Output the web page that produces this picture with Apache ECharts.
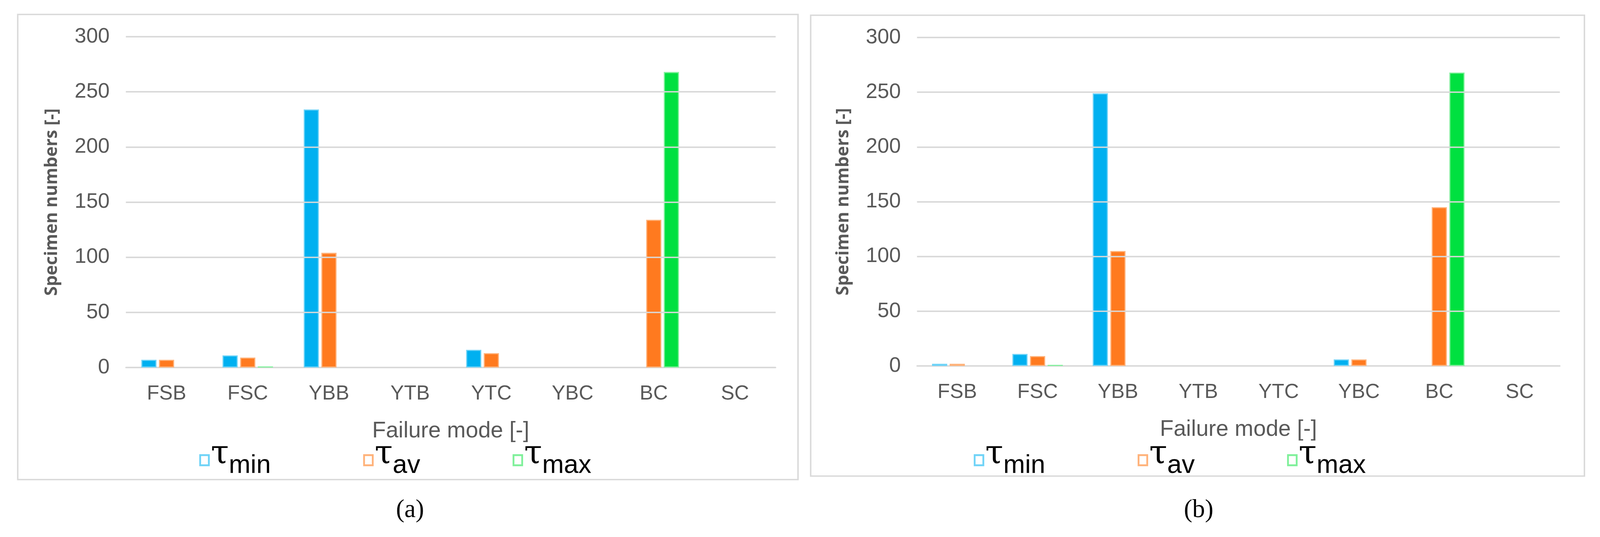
<!DOCTYPE html>
<html>
<head>
<meta charset="utf-8">
<script src="https://cdn.jsdelivr.net/npm/echarts@6/dist/echarts.min.js"></script>
<style>html,body{margin:0;background:#fff;overflow:hidden}#c{width:100vw;height:100vh}</style>
</head>
<body>
<div id="c"></div>
<script>
// failure modes
var categories = ['FSB', 'FSC', 'YBB', 'YTB', 'YTC', 'YBC', 'BC', 'SC'];
var yTicks = [0, 50, 100, 150, 200, 250, 300];

// panel (a)
var aMin = [7, 11, 234, 0, 16, 0, 0, 0];
var aAv  = [7, 9, 104, 0, 13, 0, 134, 0];
var aMax = [0, 1, 0, 0, 0, 0, 268, 0];

// panel (b)
var bMin = [2, 11, 249, 0, 0, 6, 0, 0];
var bAv  = [2, 9, 105, 0, 0, 6, 145, 0];
var bMax = [0, 1, 0, 0, 0, 0, 268, 0];

var names = ['min', 'av', 'max'];
var colors = ['#00b0f0', '#ff7a1f', '#00e040'];
var edges = ['#6fd3f7', '#ffb27a', '#7ff09a'];
var axisFont = 'Liberation Sans Narrow, Liberation Sans, sans-serif';

var chart = echarts.init(document.getElementById('c'));
// everything was measured on a 4421x1375 picture
var sx = chart.getWidth() / 4421, sy = chart.getHeight() / 1375, s = Math.min(sx, sy);
function X(v){ return v * sx; }
function Y(v){ return v * sy; }

function bar(name, data, k, idx){
    return {
        name: name, type: 'bar', xAxisIndex: idx, yAxisIndex: idx,
        // zero counts are not drawn in the source
        data: data.map(function(v){ return v === 0 ? null : v; }),
        barWidth: 42 * s, barGap: '16%',
        itemStyle: { color: colors[k], borderColor: edges[k], borderWidth: 3 * s },
        z: 2
    };
}
// grid lines over the bars, as in the source
function overLines(idx){
    return {
        type: 'line', data: [], xAxisIndex: idx, yAxisIndex: idx, z: 5,
        markLine: {
            silent: true, symbol: 'none', label: { show: false },
            lineStyle: { color: '#d9d9d9', width: 4 * s, type: 'solid' },
            data: yTicks.slice(1).map(function(v){ return { yAxis: v }; })
        }
    };
}
function legendFor(left){
    return {
        left: X(left), top: Y(1118), itemGap: 255 * s, itemWidth: 24 * s, itemHeight: 28 * s,
        icon: 'rect', data: names,
        itemStyle: { color: 'none', borderWidth: 5 * s },
        formatter: function(n){ return '{t|τ}{s|' + n + '}'; },
        textStyle: { rich: {
            t: { fontSize: 90 * s, color: '#000', fontFamily: 'DejaVu Serif', padding: [0, 0, 30 * s, 0] },
            s: { fontSize: 72 * s, color: '#000', fontFamily: axisFont, padding: [30 * s, 0, 0, 0] }
        } }
    };
}
function xAx(idx){
    return {
        gridIndex: idx, type: 'category', data: categories,
        name: 'Failure mode [-]', nameLocation: 'middle', nameGap: 145 * s,
        nameTextStyle: { fontSize: 62 * s, color: '#595959', fontFamily: axisFont },
        axisLine: { lineStyle: { color: '#d9d9d9', width: 4 * s } },
        axisTick: { show: false },
        axisLabel: { fontSize: 56 * s, color: '#595959', fontFamily: axisFont, margin: 45 * s }
    };
}
function yAx(idx){
    return {
        gridIndex: idx, type: 'value', min: 0, max: 300, interval: 50,
        name: 'Specimen numbers [-]', nameLocation: 'middle', nameGap: 180 * s,
        nameTextStyle: { fontSize: 48 * s, color: '#595959', fontWeight: 'bold', fontFamily: 'Open Sans' },
        axisLine: { show: false }, axisTick: { show: false },
        axisLabel: { fontSize: 58 * s, color: '#595959', fontFamily: axisFont, margin: 45 * s },
        splitLine: { lineStyle: { color: '#d9d9d9', width: 4 * s } }
    };
}

chart.setOption({
    backgroundColor: '#fff',
    color: colors,
    animation: false,
    graphic: [
        { type: 'rect', shape: { x: X(49), y: Y(37), width: X(2156), height: Y(1191) }, style: { fill: 'none', stroke: '#d9d9d9', lineWidth: 4 * s } },
        { type: 'rect', shape: { x: X(2240), y: Y(39), width: X(2138), height: Y(1180) }, style: { fill: 'none', stroke: '#d9d9d9', lineWidth: 4 * s } },
        { type: 'text', x: X(1133), y: Y(1307), style: { text: '(a)', font: (70 * s) + 'px Liberation Serif', fill: '#000', align: 'center', verticalAlign: 'middle' } },
        { type: 'text', x: X(3312), y: Y(1307), style: { text: '(b)', font: (70 * s) + 'px Liberation Serif', fill: '#000', align: 'center', verticalAlign: 'middle' } }
    ],
    legend: [legendFor(545), legendFor(2685)],
    grid: [
        { left: X(348), width: X(1795), top: Y(94), height: Y(847) },
        { left: X(2534), width: X(1776), top: Y(96), height: Y(841) }
    ],
    xAxis: [xAx(0), xAx(1)],
    yAxis: [yAx(0), yAx(1)],
    series: [
        bar('min', aMin, 0, 0), bar('av', aAv, 1, 0), bar('max', aMax, 2, 0),
        bar('min', bMin, 0, 1), bar('av', bAv, 1, 1), bar('max', bMax, 2, 1),
        overLines(0), overLines(1)
    ]
});
</script>
</body>
</html>
